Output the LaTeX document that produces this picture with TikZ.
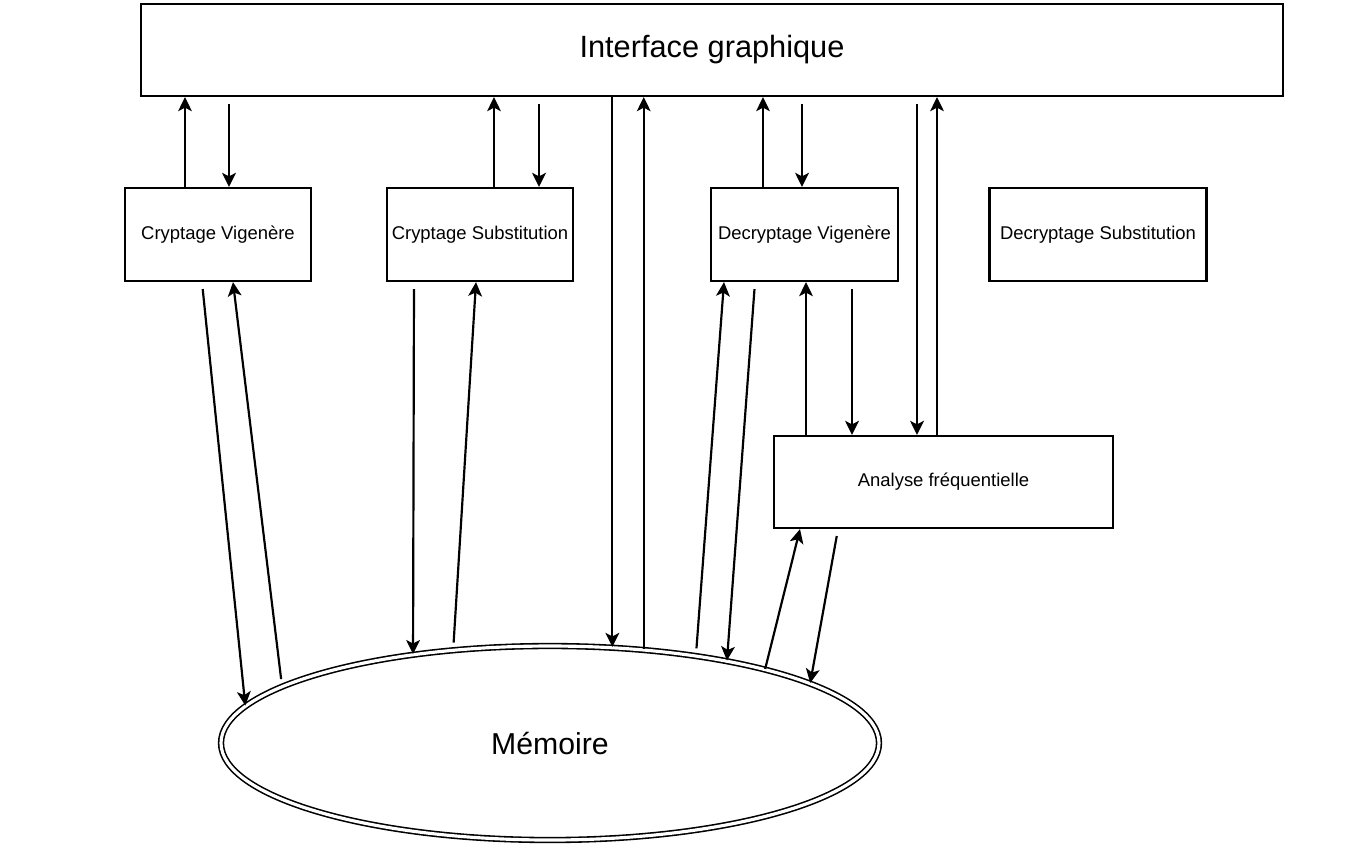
\documentclass[tikz,border=0pt]{standalone}
\usepackage{fontspec}
\setmainfont{Liberation Sans}
\usetikzlibrary{arrows.meta,shapes.geometric}
\begin{document}
\begin{tikzpicture}[line width=0.62pt, >={Stealth[length=4pt,width=3.9pt,inset=1pt]}]
\tikzstyle{every node}=[]
\tikzstyle{module}=[draw, rectangle, inner sep=0pt, minimum height=0.93cm, font=\fontsize{5.25}{6}\selectfont]
\tikzstyle{store}=[draw, ellipse, double, line width=0.45pt, double distance=0.9pt, font=\fontsize{8.6}{10}\selectfont]
\tikzstyle{gap}=[shorten <=0.07cm]

\useasboundingbox (0,0) rectangle (13.68,-8.53);

\node[module, minimum width=11.42cm, minimum height=0.92cm, font=\fontsize{8.75}{10}\selectfont] (IG) at (7.12,-0.50) {Interface graphique};
\node[module, minimum width=1.86cm] (CV) at ( 2.18,-2.345) {Cryptage Vigenère};
\node[module, minimum width=1.86cm] (CS) at ( 4.80,-2.345) {Cryptage Substitution};
\node[module, minimum width=1.87cm] (DV) at ( 8.045,-2.345) {Decryptage Vigenère};
\node[module, minimum width=2.17cm] (DS) at (10.98,-2.345) {Decryptage Substitution};
\node[module, minimum width=3.39cm, minimum height=0.92cm] (AF) at (9.435,-4.82) {Analyse fréquentielle};
\node[store, minimum width=6.58cm, minimum height=1.94cm] (M) at (5.50,-7.43) {Mémoire};

\draw[->] ([xshift=-0.33cm]CV.north) -- ([xshift=-0.33cm]CV.north |- IG.south);
\draw[->, gap] ([xshift=0.11cm]CV.north |- IG.south) -- ([xshift=0.11cm]CV.north);
\draw[->] ([xshift=0.14cm]CS.north) -- ([xshift=0.14cm]CS.north |- IG.south);
\draw[->, gap] ([xshift=0.59cm]CS.north |- IG.south) -- ([xshift=0.59cm]CS.north);
\draw[->] ([xshift=-0.415cm]DV.north) -- ([xshift=-0.415cm]DV.north |- IG.south);
\draw[->, gap] ([xshift=-0.025cm]DV.north |- IG.south) -- ([xshift=-0.025cm]DV.north);
\draw[->, gap] ([xshift=-0.265cm]AF.north |- IG.south) -- ([xshift=-0.265cm]AF.north);
\draw[->] ([xshift=-0.065cm]AF.north) -- ([xshift=-0.065cm]AF.north |- IG.south);
\draw[->] ([xshift=0.015cm]DV.south |- AF.north) -- ([xshift=0.015cm]DV.south);
\draw[->, gap] ([xshift=0.475cm]DV.south) -- ([xshift=0.475cm]DV.south |- AF.north);
\draw[->] (IG.south -| M.57.7) -- (M.57.7);
\draw[->] (M.45.6) -- (IG.south -| M.45.6);
\draw[->, gap] ([xshift=-0.16cm]CV.south) -- (M.173.4);
\draw[->, gap] (M.168.8) -- ([xshift=0.15cm]CV.south);
\draw[->, gap] ([xshift=-0.66cm]CS.south) -- (M.147.8);
\draw[->, gap] (M.136.5) -- ([xshift=-0.04cm]CS.south);
\draw[->, gap] (M.31.6) -- ([xshift=-0.805cm]DV.south);
\draw[->, gap] ([xshift=-0.495cm]DV.south) -- (M.25.6);
\draw[->] (M.19.0) -- ([xshift=-1.435cm]AF.south);
\draw[->, gap] ([xshift=-1.055cm]AF.south) -- (M.13.4);
\end{tikzpicture}
\end{document}
